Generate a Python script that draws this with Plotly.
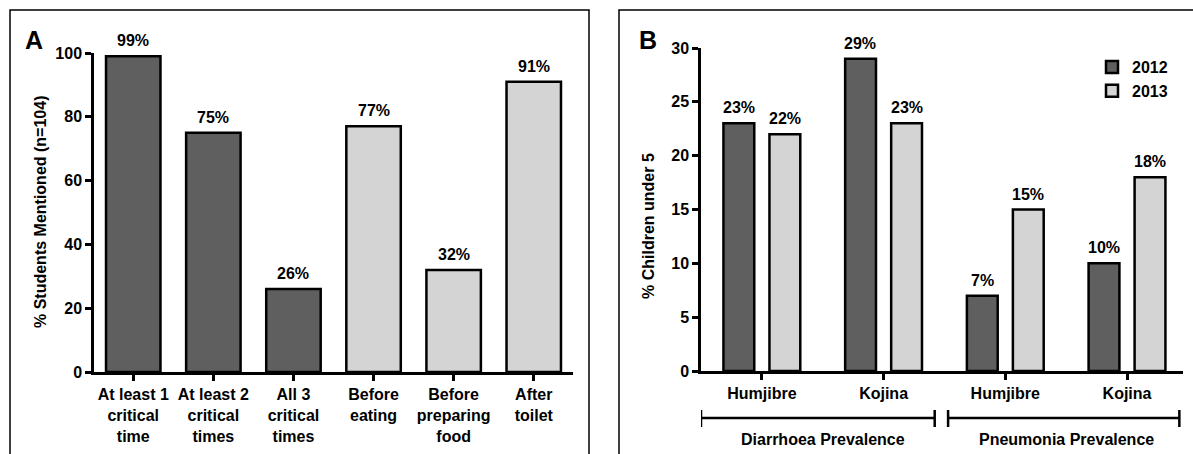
import plotly.graph_objects as go

# panel A - hand washing critical times
a_labels = ["At least 1<br>critical<br>time", "At least 2<br>critical<br>times", "All 3<br>critical<br>times",
            "Before<br>eating", "Before<br>preparing<br>food", "After<br>toilet"]
a_values = [99, 75, 26, 77, 32, 91]
a_colors = ["#5f5f5f", "#5f5f5f", "#5f5f5f", "#d4d4d4", "#d4d4d4", "#d4d4d4"]

# panel B - prevalence by site and year
b_sites = ["Humjibre", "Kojina", "Humjibre", "Kojina"]
b_groups = ["Diarrhoea Prevalence", "Pneumonia Prevalence"]
b_group_of_site = [0, 0, 1, 1]
b_2012 = [23, 29, 7, 10]
b_2013 = [22, 23, 15, 18]

W, H = 1193, 454
FONT = "Liberation Sans, Arial, sans-serif"
FS = 16
DARK = "#5f5f5f"
LIGHT = "#d4d4d4"


def px_x(p):
    return p / W


def px_y(p):
    return 1 - p / H


fig = go.Figure()

fig.add_trace(go.Bar(x=a_labels, y=a_values, marker=dict(color=a_colors, line=dict(color="black", width=2.5)),
                     showlegend=False, xaxis="x", yaxis="y", width=0.68))

b_pos = list(range(len(b_sites)))
fig.add_trace(go.Bar(x=b_pos, y=b_2012, name="2012", marker=dict(color=DARK, line=dict(color="black", width=2.5)),
                     xaxis="x2", yaxis="y2"))
fig.add_trace(go.Bar(x=b_pos, y=b_2013, name="2013", marker=dict(color=LIGHT, line=dict(color="black", width=2.5)),
                     xaxis="x2", yaxis="y2"))

ann = []
lab_font = dict(family=FONT, size=FS, color="black", weight="bold")
for lab, v in zip(a_labels, a_values):
    ann.append(dict(x=lab, y=v, xref="x", yref="y", text=f"{v}%", showarrow=False,
                    xanchor="center", yanchor="bottom", yshift=5, font=lab_font))
for i, (v1, v2) in enumerate(zip(b_2012, b_2013)):
    ann.append(dict(x=i - 0.19, y=v1, xref="x2", yref="y2", text=f"{v1}%", showarrow=False,
                    xanchor="center", yanchor="bottom", yshift=5, font=lab_font))
    ann.append(dict(x=i + 0.19, y=v2, xref="x2", yref="y2", text=f"{v2}%", showarrow=False,
                    xanchor="center", yanchor="bottom", yshift=5, font=lab_font))

# panel letters and axis titles (explicit anchors, paper coords)
big = dict(family=FONT, size=25, color="black", weight="bold")
ann.append(dict(x=px_x(34), y=px_y(40), xref="paper", yref="paper", text="A", showarrow=False,
                xanchor="center", yanchor="middle", font=big))
ann.append(dict(x=px_x(648), y=px_y(40), xref="paper", yref="paper", text="B", showarrow=False,
                xanchor="center", yanchor="middle", font=big))
ann.append(dict(x=px_x(40), y=px_y(212), xref="paper", yref="paper", text="% Students Mentioned (n=104)",
                textangle=-90, showarrow=False, xanchor="center", yanchor="middle", font=lab_font))
ann.append(dict(x=px_x(648), y=px_y(226), xref="paper", yref="paper", text="% Children under 5",
                textangle=-90, showarrow=False, xanchor="center", yanchor="middle", font=lab_font))

# group brackets under panel B
shapes = []
line_y = px_y(418)
for gi, gname in enumerate(b_groups):
    idx = [i for i, g in enumerate(b_group_of_site) if g == gi]
    x0 = min(idx) - (0.5 if gi == 0 else 0.47)
    x1 = max(idx) + (0.42 if gi == 0 else 0.43)
    shapes.append(dict(type="line", xref="x2", yref="paper", x0=x0, x1=x1, y0=line_y, y1=line_y,
                       line=dict(color="black", width=2.5)))
    for xx in (x0, x1):
        shapes.append(dict(type="line", xref="x2", yref="paper", x0=xx, x1=xx, y0=px_y(410), y1=px_y(427),
                           line=dict(color="black", width=2.5)))
    ann.append(dict(x=(min(idx) + max(idx)) / 2, y=px_y(439), xref="x2", yref="paper", text=gname,
                    showarrow=False, xanchor="center", yanchor="middle", font=lab_font))

# panel frames
for x0, x1 in [(10, 589), (619, 1200)]:
    shapes.append(dict(type="rect", xref="paper", yref="paper", x0=px_x(x0), x1=px_x(x1),
                       y0=-0.1, y1=px_y(10), line=dict(color="black", width=1.5)))

axis_common = dict(showline=True, linecolor="black", linewidth=2.5, ticks="outside", ticklen=6,
                   tickwidth=2.5, tickcolor="black", showgrid=False, zeroline=False,
                   tickfont=dict(family=FONT, size=FS, color="black", weight="bold"))

fig.update_layout(
    width=W, height=H, margin=dict(l=0, r=0, t=0, b=0, autoexpand=False),
    paper_bgcolor="white", plot_bgcolor="white",
    bargap=0.244, bargroupgap=0.33,
    xaxis=dict(domain=[px_x(94), px_x(573)], range=[-0.49, 5.49], anchor="y", **axis_common),
    yaxis=dict(domain=[px_y(372), px_y(53)], range=[0, 100], tickvals=[0, 20, 40, 60, 80, 100],
               anchor="x", **axis_common),
    xaxis2=dict(domain=[px_x(701), px_x(1183)], range=[-0.5, 3.46], anchor="y2",
                tickvals=b_pos, ticktext=b_sites, **axis_common),
    yaxis2=dict(domain=[px_y(371), px_y(48)], range=[0, 30], tickvals=[0, 5, 10, 15, 20, 25, 30],
                anchor="x2", **axis_common),
    legend=dict(x=px_x(1092), y=px_y(50), xanchor="left", yanchor="top", bgcolor="rgba(0,0,0,0)",
                font=dict(family=FONT, size=FS, color="black", weight="bold"), tracegroupgap=2),
    annotations=ann, shapes=shapes,
)

# pin the figure to the window's top-left corner so nothing scrolls or shifts
pin = ("var d=document.getElementById('{plot_id}');"
       "d.style.position='fixed';d.style.left='0px';d.style.top='0px';"
       "document.body.style.margin='0';document.documentElement.style.overflow='hidden';")
fig.write_html("out.html", config={"displayModeBar": False}, post_script=pin)
